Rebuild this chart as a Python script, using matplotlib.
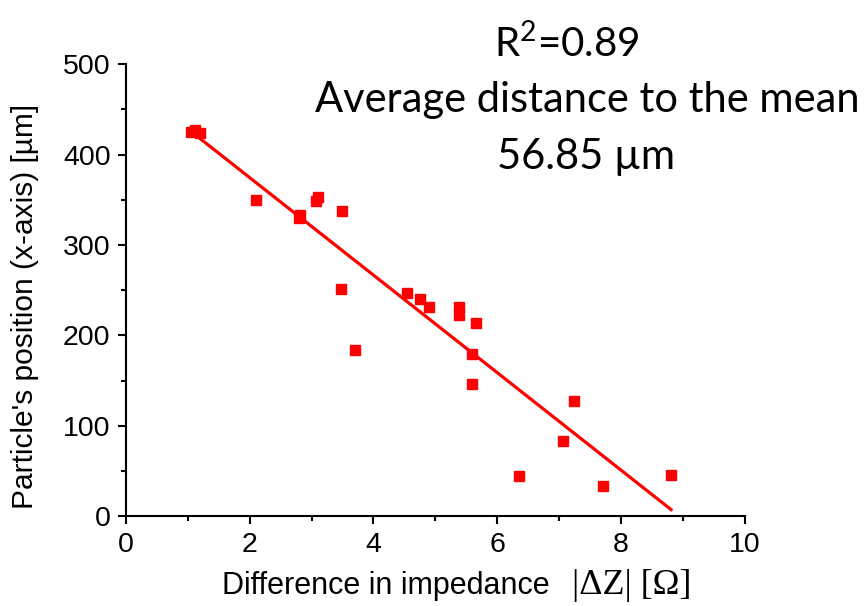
import numpy as np
import matplotlib
matplotlib.use("Agg")
import matplotlib.pyplot as plt
from matplotlib.ticker import MultipleLocator

plt.rcParams['font.family'] = ['Liberation Sans', 'DejaVu Sans']
plt.rcParams['mathtext.fontset'] = 'custom'
plt.rcParams['mathtext.rm'] = 'Lato'

# Measured data: |dZ| [Ohm] vs position [um]
impedance = [1.05, 1.12, 1.19, 2.11, 2.80, 2.82, 3.08, 3.10, 3.50, 3.47,
             3.70, 4.55, 4.75, 4.90, 5.38, 5.38, 5.66, 5.60, 5.60, 6.36,
             7.06, 7.24, 7.71, 8.81]
position = [425, 427, 424, 350, 330, 333, 349, 353, 338, 251,
            184, 247, 240, 232, 232, 223, 214, 180, 146, 45,
            83, 127, 34, 46]

r2_text = r"R$^\mathrm{2}$=0.89"
note_line1 = "Average distance to the mean"
note_line2 = "56.85 µm"
xlabel_sans = "Difference in impedance"
xlabel_serif = "|ΔZ| [Ω]"
ylabel = "Particle's position (x-axis) [µm]"

x = np.array(impedance)
y = np.array(position)

# Linear fit
slope, intercept = np.polyfit(x, y, 1)
xfit = np.array([x.min() + 0.05, x.max()])
yfit = slope * xfit + intercept

fig = plt.figure(figsize=(8.68, 6.06), dpi=100)
ax = fig.add_axes([0.145, 0.148, 0.713, 0.746])

ax.plot(xfit, yfit, color='#ff0000', lw=2.3, zorder=2)
ax.plot(x, y, 's', color='#ff0000', markersize=7, zorder=3)

ax.set_xlim(0, 10)
ax.set_ylim(0, 500)
ax.xaxis.set_major_locator(MultipleLocator(2))
ax.xaxis.set_minor_locator(MultipleLocator(1))
ax.yaxis.set_major_locator(MultipleLocator(100))
ax.yaxis.set_minor_locator(MultipleLocator(50))

for s in ['top', 'right']:
    ax.spines[s].set_visible(False)
for s in ['left', 'bottom']:
    ax.spines[s].set_linewidth(1.5)

ax.tick_params(which='major', direction='out', length=6, width=1.5,
               labelsize=20.5, pad=5)
ax.tick_params(which='minor', direction='out', length=3.5, width=1.5)

ax.set_ylabel(ylabel, fontsize=21.5)
ax.yaxis.set_label_coords(-0.14, 0.465)

# x label: sans part + serif symbol part
fig.text(550 / 868, 1 - 594 / 606, xlabel_sans, fontsize=22,
         ha='right', va='baseline')
fig.text(572 / 868, 1 - 594 / 606, xlabel_serif, fontsize=26,
         family=['Liberation Serif', 'DejaVu Serif'], ha='left', va='baseline')

note_font = ['Lato', 'DejaVu Sans']
fig.text(567 / 868, 1 - 44 / 606, r2_text, fontsize=29, family=note_font,
         ha='center', va='center')
fig.text(587 / 868, 1 - 100 / 606, note_line1, fontsize=30, family=note_font,
         ha='center', va='center')
fig.text(586 / 868, 1 - 157 / 606, note_line2, fontsize=30, family=note_font,
         ha='center', va='center')

fig.savefig("out.png", dpi=100)
